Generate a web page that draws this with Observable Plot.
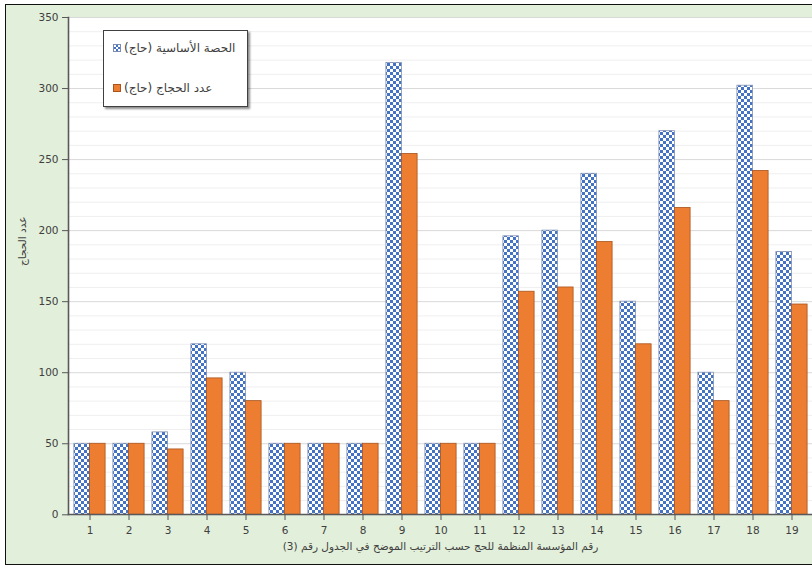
<!DOCTYPE html>
<html><head><meta charset="utf-8">
<script src="https://cdn.jsdelivr.net/npm/d3@7"></script>
<script src="https://cdn.jsdelivr.net/npm/@observablehq/plot@0.6"></script>
<style>
body{margin:0;background:#fff}
#wrap{position:relative;width:812px;height:568px;overflow:hidden;font-family:"DejaVu Sans",sans-serif}
#bg{position:absolute;left:5px;top:4px;width:840px;height:559px;border:1.5px solid #111;background:#E2EFDA}
#wrap svg{position:absolute;left:0;top:0}
#legend{position:absolute;left:103px;top:30px;width:143px;height:75px;border:1px solid #404040;background:#fff;box-shadow:2px 2px 2px rgba(0,0,0,.45)}
.item{position:absolute;left:9px;display:flex;align-items:center;font-size:12px;color:#404040}
.sym{width:8px;height:8px;margin-right:3px;box-sizing:border-box}
.item span{direction:rtl}
</style>
</head><body>
<div id="wrap"><div id="bg"></div></div>
<script>
const categories = ["1","2","3","4","5","6","7","8","9","10","11","12","13","14","15","16","17","18","19"];
const baseQuota = [50,50,58,120,100,50,50,50,318,50,50,196,200,240,150,270,100,302,185];
const pilgrims  = [50,50,46,96,80,50,50,50,254,50,50,157,160,192,120,216,80,242,148];
const yTicks = [0,50,100,150,200,250,300,350];
const yMinor = [10,20,30,40,60,70,80,90,110,120,130,140,160,170,180,190,210,220,230,240,260,270,280,290,310,320,330,340];
const seriesNames = ["الحصة الأساسية (حاج)", "عدد الحجاج (حاج)"];
const yTitle = "عدد الحجاج";
const xTitle = "رقم المؤسسة المنظمة للحج حسب الترتيب الموضح في الجدول رقم (3)";

const data = categories.map((c,i)=>({cat:c, quota:baseQuota[i], pilgrims:pilgrims[i]}));

const chart = Plot.plot({
  width: 812, height: 568,
  marginTop: 17, marginBottom: 54, marginLeft: 68, marginRight: 0,
  style: {background: "transparent", fontFamily: "DejaVu Sans", fontSize: "10.5px", color: "#404040"},
  x: {type: "band", domain: categories, range: [68.75, 811.7], padding: 0},
  y: {domain: [0, 350], range: [514.3, 17]},
  marks: [
    Plot.frame({fill: "white", stroke: "#8c8c8c"}),
    Plot.ruleY(yMinor, {stroke: "#efefef"}),
    Plot.ruleY(yTicks, {stroke: "#d9d9d9"}),
    Plot.barY(data, {x: "cat", y: "quota", fill: "url(#checker)", stroke: "#8090b0", strokeWidth: 0.8, insetLeft: 3.9, insetRight: 19.6}),
    Plot.barY(data, {x: "cat", y: "pilgrims", fill: "#ED7D31", stroke: "#A8541C", strokeWidth: 0.8, insetLeft: 19.5, insetRight: 3.9}),
    Plot.frame({anchor: "left", stroke: "#595959", strokeWidth: 1.6}),
    Plot.frame({anchor: "bottom", stroke: "#595959", strokeWidth: 1.6}),
    Plot.axisY({ticks: yTicks, tickSize: 6, tickPadding: 4, label: null, stroke: "#595959", color: "#404040"}),
    Plot.axisX({tickSize: 6, tickPadding: 6, label: null, stroke: "#595959"}),
    Plot.text([yTitle], {frameAnchor: "left", rotate: -90, dx: -46, fontSize: 10.5, fill: "#404040"}),
    Plot.text([xTitle], {frameAnchor: "bottom", dy: 35, fontSize: 10.5, fill: "#404040"})
  ]
});

const defs = d3.select(chart).insert("defs", ":first-child");
const pat = defs.append("pattern").attr("id","checker").attr("patternUnits","userSpaceOnUse").attr("width",6).attr("height",6);
pat.append("rect").attr("width",6).attr("height",6).attr("fill","#ffffff");
pat.append("rect").attr("width",3).attr("height",3).attr("fill","#4472C4");
pat.append("rect").attr("x",3).attr("y",3).attr("width",3).attr("height",3).attr("fill","#4472C4");

const wrap = document.getElementById("wrap");
wrap.appendChild(chart);

const legend = document.createElement("div");
legend.id = "legend";
const fills = ["repeating-conic-gradient(#4472C4 0 25%, #fff 0 50%) 0 0/4px 4px", "#ED7D31"];
const borders = ["#7b8db5", "#A8541C"];
const tops = [10, 50];
seriesNames.forEach((n,i)=>{
  const it = document.createElement("div");
  it.className = "item";
  it.style.top = tops[i] + "px";
  const s = document.createElement("div");
  s.className = "sym";
  s.style.background = fills[i];
  s.style.border = "1px solid " + borders[i];
  const t = document.createElement("span");
  t.textContent = n;
  it.appendChild(s); it.appendChild(t);
  legend.appendChild(it);
});
wrap.appendChild(legend);
</script>
</body></html>
